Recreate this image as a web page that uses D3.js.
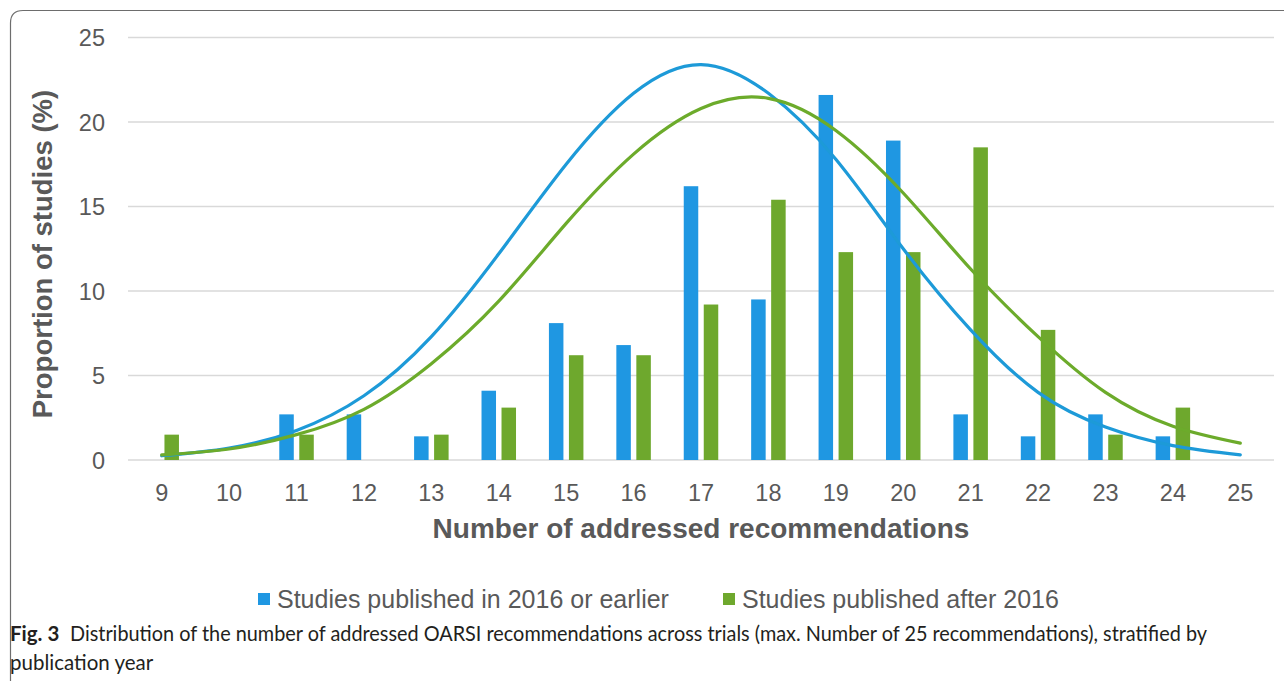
<!DOCTYPE html>
<html>
<head>
<meta charset="utf-8">
<script src="https://cdn.jsdelivr.net/npm/d3@7"></script>
<style>
  html, body { margin: 0; padding: 0; background: #fff; }
  svg { display: block; }
</style>
</head>
<body>
<svg id="chart" width="1284" height="681"></svg>
<script>
// Number of addressed recommendations (x categories)
const categories = [9, 10, 11, 12, 13, 14, 15, 16, 17, 18, 19, 20, 21, 22, 23, 24, 25];

// Proportion of studies (%) per category
const earlierValues = [0, 0, 2.7, 2.7, 1.4, 4.1, 8.1, 6.8, 16.2, 9.5, 21.6, 18.9, 2.7, 1.4, 2.7, 1.4, 0];
const laterValues   = [1.5, 0, 1.5, 0, 1.5, 3.1, 6.2, 6.2, 9.2, 15.4, 12.3, 12.3, 18.5, 7.7, 1.5, 3.1, 0];

// Fitted distribution curves, one value per category
const earlierCurve = [0.25, 0.7, 1.75, 3.8, 7.3, 12.2, 17.5, 21.7, 23.4, 21.7, 17.8, 12.5, 7.7, 4.0, 1.95, 0.85, 0.3];
const laterCurve   = [0.3, 0.65, 1.5, 3.0, 5.7, 9.4, 14.0, 18.1, 20.8, 21.4, 19.5, 15.8, 11.3, 7.3, 4.0, 2.0, 1.0];

const yTicks = [0, 5, 10, 15, 20, 25];

const seriesNames = ["Studies published in 2016 or earlier", "Studies published after 2016"];
const yTitle = "Proportion of studies (%)";
const xTitle = "Number of addressed recommendations";
const captionLabel = "Fig. 3";
const captionLine1 = "Distribution of the number of addressed OARSI recommendations across trials (max. Number of 25 recommendations), stratified by";
const captionLine2 = "publication year";

const barColors = ["#1f97e2", "#6ea82d"];
const curveColors = ["#1d9ad8", "#6cab2b"];
const textGray = "#595959";
const font = "'Liberation Sans', Arial, sans-serif";

const svg = d3.select("#chart");

// Figure frame: left and top edges with a rounded corner
svg.append("path")
  .attr("d", "M10.5,690 L10.5,23 Q10.5,10.5 23,10.5 L1290,10.5")
  .attr("fill", "none")
  .attr("stroke", "#6d6d6d")
  .attr("stroke-width", 1.2);

const plot = { left: 128, right: 1274, top: 37.5, bottom: 460 };

const x = d3.scaleBand()
  .domain(categories)
  .range([plot.left, plot.right])
  .paddingInner(0)
  .paddingOuter(0);

const bw = x.bandwidth();

const xSub = d3.scaleBand()
  .domain([0, 1])
  .range([bw / 2 - 17.25, bw / 2 + 17.25])
  .paddingInner(0.275)
  .paddingOuter(0);

const y = d3.scaleLinear().domain([0, 25]).range([plot.bottom, plot.top]);

// Horizontal gridlines
svg.append("g")
  .selectAll("line")
  .data(yTicks)
  .join("line")
  .attr("x1", plot.left)
  .attr("x2", plot.right)
  .attr("y1", d => y(d))
  .attr("y2", d => y(d))
  .attr("stroke", "#d9d9d9")
  .attr("stroke-width", 1.6);

// Y axis tick labels
const yAxis = d3.axisLeft(y).tickValues(yTicks).tickSize(0).tickPadding(0);
const gy = svg.append("g")
  .attr("transform", `translate(105,0)`)
  .call(yAxis);
gy.select(".domain").remove();
gy.selectAll("text")
  .attr("fill", textGray)
  .attr("font-family", font)
  .attr("font-size", 23.5)
  .attr("dy", "0.36em");

// X axis tick labels
const xAxis = d3.axisBottom(x).tickSize(0).tickPadding(0);
const gx = svg.append("g")
  .attr("transform", `translate(0,${plot.bottom + 24})`)
  .call(xAxis);
gx.select(".domain").remove();
gx.selectAll("text")
  .attr("fill", textGray)
  .attr("font-family", font)
  .attr("font-size", 23.5)
  .attr("dy", "0.36em")
  .attr("y", 9);

// Bars
const seriesValues = [earlierValues, laterValues];
seriesValues.forEach((vals, si) => {
  svg.append("g")
    .selectAll("rect")
    .data(categories.map((c, i) => ({ c, v: vals[i] })).filter(d => d.v > 0))
    .join("rect")
    .attr("x", d => x(d.c) + xSub(si))
    .attr("width", xSub.bandwidth())
    .attr("y", d => y(d.v))
    .attr("height", d => y(0) - y(d.v))
    .attr("fill", barColors[si]);
});

// Smoothed distribution curves
const line = d3.line()
  .x(d => x(d.c) + bw / 2)
  .y(d => y(d.v))
  .curve(d3.curveNatural);

[earlierCurve, laterCurve].forEach((vals, si) => {
  svg.append("path")
    .datum(categories.map((c, i) => ({ c, v: vals[i] })))
    .attr("d", line)
    .attr("fill", "none")
    .attr("stroke", curveColors[si])
    .attr("stroke-width", 3.2)
    .attr("stroke-linecap", "round");
});

// Axis titles
svg.append("text")
  .attr("x", (plot.left + plot.right) / 2 + 0)
  .attr("y", 538)
  .attr("text-anchor", "middle")
  .attr("font-family", font)
  .attr("font-weight", "bold")
  .attr("font-size", 28)
  .attr("fill", textGray)
  .text(xTitle);

svg.append("text")
  .attr("transform", "translate(52,254) rotate(-90)")
  .attr("text-anchor", "middle")
  .attr("font-family", font)
  .attr("font-weight", "bold")
  .attr("font-size", 27.5)
  .attr("fill", textGray)
  .text(yTitle);

// Legend
const legendItems = [
  { name: seriesNames[0], color: barColors[0], x: 258 },
  { name: seriesNames[1], color: barColors[1], x: 723 }
];
const lg = svg.append("g");
legendItems.forEach(item => {
  lg.append("rect")
    .attr("x", item.x)
    .attr("y", 593)
    .attr("width", 12)
    .attr("height", 12)
    .attr("fill", item.color);
  lg.append("text")
    .attr("x", item.x + 19)
    .attr("y", 608)
    .attr("font-family", font)
    .attr("font-size", 25)
    .attr("fill", textGray)
    .text(item.name);
});

// Caption
const capFont = "Lato, 'Open Sans', sans-serif";
svg.append("text")
  .attr("x", 10)
  .attr("y", 641)
  .attr("font-family", capFont)
  .attr("font-size", 20.5)
  .attr("font-weight", "bold")
  .attr("fill", "#231f20")
  .text(captionLabel);

const cap1 = svg.append("text")
  .attr("x", 70)
  .attr("y", 641)
  .attr("font-family", capFont)
  .attr("font-size", 20.5)
  .attr("fill", "#231f20")
  .text(captionLine1);

// Stretch the first caption line so it ends where the figure caption wraps
const natural = cap1.node().getComputedTextLength();
if (natural > 0) {
  cap1.attr("textLength", 1137).attr("lengthAdjust", "spacingAndGlyphs");
}

svg.append("text")
  .attr("x", 10)
  .attr("y", 670)
  .attr("font-family", capFont)
  .attr("font-size", 20.5)
  .attr("fill", "#231f20")
  .text(captionLine2);
</script>
</body>
</html>
